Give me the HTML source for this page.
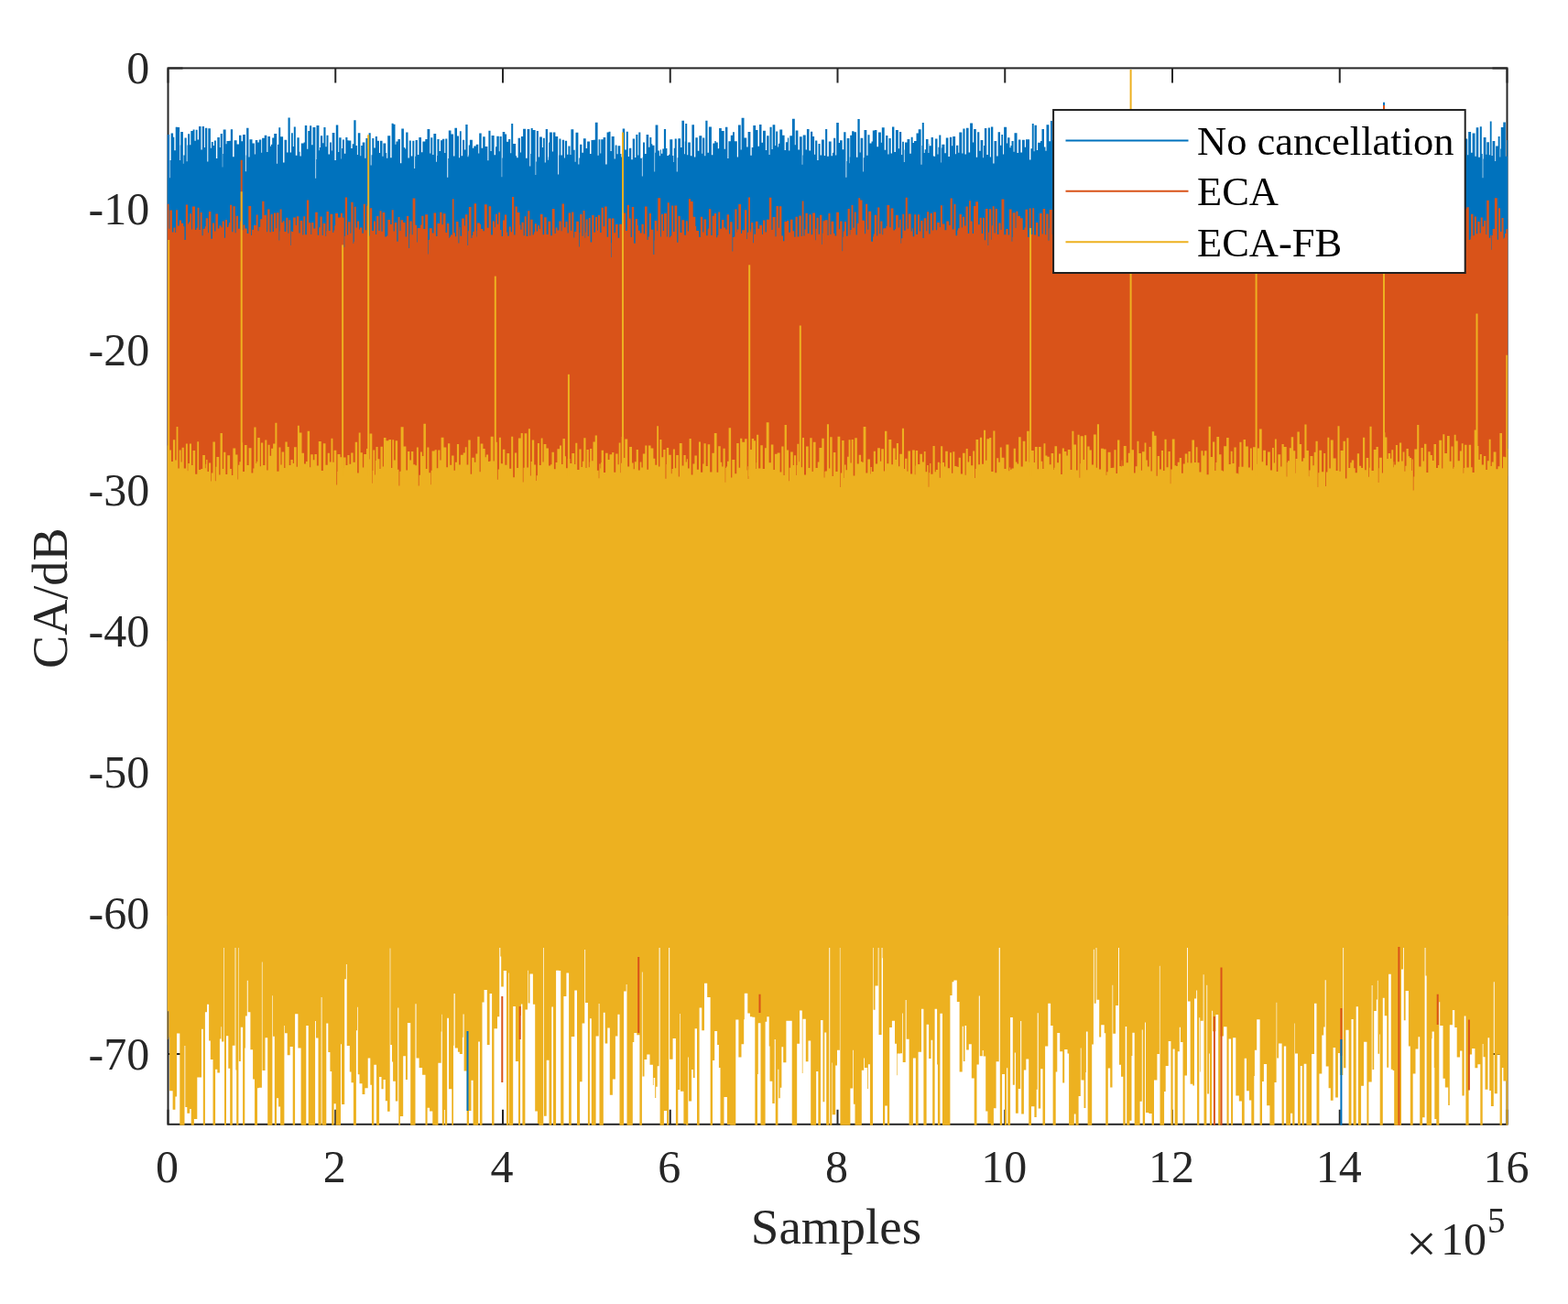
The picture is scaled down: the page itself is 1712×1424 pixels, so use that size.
<!DOCTYPE html>
<html><head><meta charset="utf-8"><style>
html,body{margin:0;padding:0;background:#fff;overflow:hidden;}
svg{display:block;}
text{font-family:"Liberation Serif","Times New Roman",serif;fill:#262626;}
</style></head><body>
<svg width="1712" height="1424" viewBox="0 0 1712 1424">
<rect width="1712" height="1424" fill="#fff"/>
<defs><clipPath id="c"><rect x="182.5" y="73.4" width="1464.0" height="1155.3999999999999"/></clipPath></defs>
<rect x="183.5" y="74.4" width="1462.0" height="1153.3999999999999" fill="none" stroke="#262626" stroke-width="2"/><path d="M183.50 1227.8V1211.8M183.50 74.4V90.4M366.25 1227.8V1211.8M366.25 74.4V90.4M549.00 1227.8V1211.8M549.00 74.4V90.4M731.75 1227.8V1211.8M731.75 74.4V90.4M914.50 1227.8V1211.8M914.50 74.4V90.4M1097.25 1227.8V1211.8M1097.25 74.4V90.4M1280.00 1227.8V1211.8M1280.00 74.4V90.4M1462.75 1227.8V1211.8M1462.75 74.4V90.4M1645.50 1227.8V1211.8M1645.50 74.4V90.4M183.5 74.40H199.5M1645.5 74.40H1629.5M183.5 228.19H199.5M1645.5 228.19H1629.5M183.5 381.97H199.5M1645.5 381.97H1629.5M183.5 535.76H199.5M1645.5 535.76H1629.5M183.5 689.55H199.5M1645.5 689.55H1629.5M183.5 843.33H199.5M1645.5 843.33H1629.5M183.5 997.12H199.5M1645.5 997.12H1629.5M183.5 1150.91H199.5M1645.5 1150.91H1629.5" stroke="#262626" stroke-width="2" fill="none"/>
<g clip-path="url(#c)">
<path fill="#0072BD" d="M182.5 700V147.1H185.1V194.3H185.6V175H186.6V145.4H189.1V149.8H190.3V164.2H191.7V138.8H194.1V139H196.1V174.9H196.8V158.6H197.2V144H199.9V178.8H200.4V169.5H201.5V150.5H203.7V176.2H204.5V158.5H205.1V146.2H207.2V158.2H208.3V143.1H210.6V141.5H212.5V153.7H213.7V141.7H215.6V152.5H217V138H219.5V163.4H220.7V138.1H223V161.1H223.9V139.7H226.3V176.5H227.3V140.3H229.9V161.7H230.8V155H232.7V158.9H233.9V153.4H235.9V172.9H237.3V150H239.8V161.1H240.7V146H242.8V182.6H243.2V168.1H243.7V141.6H246.6V157.3H247.5V154.1H250.4V153.8H251.8V141.3H254.1V171.3H255.6V153.3H258.6V157.6H260.1V157.4H261V147.8H263.5V154.2H265V146.9H267.9V187.2H268.7V169.5H269.1V139.8H271.5V171.4H272.5V152.3H275.5V156.4H277.9V168.6H278.8V153.1H281.3V155.6H282.8V152.5H285.3V166.8H286.1V150.8H288.7V147.8H291.3V166H292.4V149H295V159.8H295.9V157.8H297.2V150.6H299.2V145.9H302.2V178.8H303V157.9H303.4V157.7H304.3V139.3H306.2V149.3H309.1V177.4H310.5V152.8H313.1V166.5H314.5V128.4H316.7V166.6H318V145.3H319.8V160H320.8V138.5H322.8V169.8H324.4V150.3H326.7V165.8H327.5V170.5H328.8V156.5H331.6V155.4H332.8V137H335.2V162.7H336.3V142.9H338.1V137.3H340.2V158.3H341.5V139H344.4V194.7H345.1V173.9H345.5V137.1H348.4V164.3H349V161H349.9V148.3H352.2V156.3H353.4V138.9H355.5V160.2H356.5V147.7H358.5V168.5H360V155.4H361.9V164.6H362.7V144.9H365.4V175.1H366.8V136.6H369.3V166.1H370.2V150.2H372.6V173.6H373V162H373.9V152.5H375.9V167.8H377.3V149.9H379.4V153.3H380.5V153.5H383.3V162H384.7V157.2H386.3V131.3H388.6V159.1H389.9V169H390.8V145.2H393.4V170.2H394.2V159.1H395.7V155.5H398.4V172.8H399.4V151H401.8V162.4H402.6V145.2H404.7V180.4H405.5V169.3H406.3V150.9H408.3V161.5H409.8V149.1H411.9V153.7H414V167.1H415V153.7H417.5V170.8H418.4V156.6H421.3V166.9H422.2V172.8H423.2V148.3H426.2V172.2H427.6V134.7H429.6V135.8H431.5V157.8H432.4V154.5H434.4V152.1H437V178.2H438.3V140.5H440.9V161H442.2V162.6H443.2V144.6H445.5V172.4H446.8V153.5H448.8V170.6H450.3V153.7H452.3V184.1H453.1V170.7H453.6V153H455.9V169.1H457.3V150.1H460V166.3H461.4V154.6H464.3V152.1H466.5V141.1H469.3V167.6H470.3V150.3H472.3V168.9H473.4V146.1H476.2V176.7H477V170H477.4V152.1H479.6V164.9H481V153.3H482.9V151.7H485.3V167.1H486.3V151.4H488.3V193.7H489.2V172.9H489.8V142.6H492.5V146.5H495.1V170.5H496.4V139.7H499V148.6H501V172.2H501.9V143.2H503.7V170.2H505.1V152.7H507.1V163.4H508.3V136H510.6V171.3H511.4V169.5H511.8V158.5H512.9V152.7H515.9V161.7H517.3V159.5H519.7V157.7H522.3V167.4H523.2V145.5H525.7V161.7H527.2V149.3H529.7V160.1H532.4V175.3H533.4V142.7H535.5V165.1H536.6V148.1H539.6V169.3H541V160.2H542.3V148.8H544.8V165.3H545.6V148.9H547.7V193.2H548.2V172.4H548.7V144.1H551.3V146.4H553.1V154.7H555.1V152.1H557.3V167.2H558.2V135.1H560.2V157.1H563.1V170.3H564.2V172.2H565.6V150.7H568V166.4H568.9V149.1H571.1V140.8H574V172.7H575.6V141H578.3V181.5H579.2V168H579.7V140H581.7V142.1H584.6V190.9H585.2V176.6H585.8V143H587.9V171.4H589V149.5H591.9V161.1H592.9V150.8H594.8V177.5H595.7V141H598V174.8H598.7V171.5H599.1V155.5H600V144.5H602.9V165.4H603.9V144.6H606.4V149.1H609.2V190.4H610.1V169.6H610.5V151.6H612.4V169.5H613.8V152.7H616.1V172.4H616.9V153.8H619.1V168.7H620.4V159.4H622.5V169H623.4V141.2H626.3V163.7H627.7V176.7H628.5V144.8H631.4V179.6H632.3V172.5H633.1V157.7H635.4V166.8H636.9V151.2H639.7V162.1H641.1V154.5H644V168.1H645.5V153H647.8V152.8H649.8V133.8H652.6V169.8H653.6V152.2H655.4V167.5H656.2V152.3H658.6V149.9H661.2V179.6H662.6V144.5H664.6V143.8H666.5V164.9H667.7V148.9H670.7V173.6H671.7V158.4H673.5V168.2H674.6V159.3H677.3V167.9H678.4V171.5H679.7V140.5H682.2V163.4H683.8V143.7H685.8V171H686.9V161.7H689.3V174.2H690.7V151.6H693.1V171.9H694.3V146.9H696.4V169.4H697.3V144.5H699.3V172.8H700.9V192.5H701.6V171.7H702V155.5H704V168H705.6V146.9H708.2V160.7H709.4V149.9H711.3V157.3H712.3V158.8H714.5V187.6H715.1V166.8H715.6V136.5H718.4V164.5H719.9V170.3H720.8V163.4H721.9V167.7H723.3V162.5H724.9V141H727.1V162H728.4V170.1H730V168.7H731.3V152.2H734.3V170H735.3V177.1H735.8V161.7H736.7V151.4H738.8V187.6H739.6V172.3H740.3V151.2H743.1V161H744.4V131.8H747V168.3H747.8V154.6H748.2V135H750.2V169.2H751.2V155.4H753.9V170.3H755.4V136.3H758V171.6H759.3V150.2H761.8V164.8H763.3V148.3H766.3V167.8H767.1V150.6H769.3V170.3H770.3V131.7H772.5V166.7H773.9V138.5H776.9V169.3H778.3V156.6H780.3V154.1H781.7V155.4H783.8V162.2H785.1V140H787.8V143.1H790.7V162.7H791.9V138.8H794.4V173.1H795.4V154.2H797.8V147.8H800V144.2H801.9V154.2H804.8V171.4H806V136.4H808.7V163.4H809.6V128.8H812.5V150.4H815.2V160.5H816.6V144.1H819.4V169.8H820.7V161.1H822.3V137H825.1V141.9H827.5V159.8H829V135.9H831.5V155.8H833V142.8H835.9V164.1H837.1V148.3H839.6V168.9H840.5V138.7H842.6V162.9H843.6V136.2H846.3V159H847.2V143.6H849.1V160.5H849.9V156.7H851.3V141.5H854.2V147.8H856.6V164H857.9V155.2H859.9V150.6H861.2V164.4H862.3V148.3H864.9V129.8H867.8V158.3H868.7V142.4H871.4V163.4H872.9V149.2H875.7V179.7H876.3V169.5H876.7V147.4H879.7V163.5H880.9V141H883.5V164.6H885V143.7H887.2V149.1H889.1V168.7H890.1V153.6H892.3V175.1H893.5V157.1H895.6V169.4H897V152.5H899.8V170.1H901.1V141.1H903.2V170.7H904.8V154.6H907.6V170.2H908.9V166.8H910.1V150.8H912.2V169.4H913.2V133.9H915.8V156.1H917V153.2H919.7V163.3H921.2V144.2H923.5V193.8H924.3V176H924.7V150.9H927.4V178.3H927.8V171.6H928.2V147.7H930.1V143.2H932.5V144.3H935V171.7H936.4V130.1H938.7V166.4H939.6V150.8H942.2V187.5H942.8V172.2H943.5V142.1H946.3V169.7H947.5V147.3H949.5V156.6H951.5V154.6H952.8V142.4H954.9V142H957.4V160.3H959V144.4H961.9V155.8H962.8V139.2H965.7V163.8H967.1V147.9H969.4V168.4H970.5V150.9H972.7V167.4H974V138.6H976.4V166.1H977.9V142H980.8V162.2H981.9V143.9H984.2V169.1H985.1V154.8H986.9V176.9H987.6V163.4H988V155.4H990.5V151.9H993.3V167.7H994.7V149.8H996.6V155.9H998V154H1000.5V145.5H1002.7V141.3H1005.6V179.8H1006.4V159H1006.8V134.1H1008.8V167H1009.7V163.3H1010.9V152.1H1013.5V166.9H1014.3V157H1014.7V159.2H1016.6V149.9H1018.9V170.6H1020V170.7H1021.1V151.4H1023.5V168.5H1024.4V160.8H1025.3V147.4H1027.3V177.6H1027.8V161.5H1028.4V157.7H1031.4V167.3H1032.8V150.6H1035.4V171.1H1036.9V149.8H1039.2V159.2H1040.2V149.1H1043.1V168.3H1044V158.8H1046.3V166.8H1047.3V144.4H1050.3V167.4H1051.4V140.5H1053.5V168.6H1054.9V139.8H1057.6V166.4H1059.1V134.4H1062V155.6H1063.1V141.1H1065.8V171.7H1067.1V144.3H1069.3V164.7H1070.6V153H1073.3V172.3H1074V158.9H1074.9V140H1077.3V168.9H1078.8V139.6H1080.9V171.5H1081.9V138.4H1084.3V178.6H1085.5V153.9H1088.2V170.4H1089.6V144.2H1092V158.8H1093.3V147.1H1095.1V168.5H1096.1V138.7H1099.1V156.5H1100.1V150.3H1102.5V161.2H1103.5V159.1H1104.5V154H1106.6V165.8H1107.5V145.3H1110.5V167.1H1111.9V152.4H1114.4V166.5H1116V152.8H1118.8V160.8H1120V152.2H1121.9V152.3H1124V174.4H1125.4V162.3H1126.8V135.1H1128.7V165.2H1129.5V136.7H1131.9V164H1133.1V155.7H1136V154H1137.5V141.1H1140V160.5H1141.5V164.8H1142.5V136.2H1145.4V154.3H1147V132H1148.9V153H1150.4V148.9H1153V159.4H1154.3V142.6H1156.5V163.6H1158V151.4H1160.2V191.9H1160.9V171.1H1161.3V149.5H1163.7V164.1H1164.9V143.7H1166.9V169.7H1168.5V154.2H1171V164.8H1172.5V145.7H1174.4V148.9H1176.7V170.8H1178V175.8H1179.1V148.4H1181.5V170.5H1182.2V158.3H1182.8V146.2H1184.9V164.1H1185.9V145.1H1188.3V164H1189.5V143.2H1191.7V152.7H1194.1V163.6H1195.1V148.1H1198.1V167.8H1198.9V147.1H1201.5V167.6H1202.7V141.5H1204.8V165.9H1205.8V144.3H1208V181.2H1208.8V169.6H1209.2V166H1210.2V149.4H1212.4V158H1213.9V154.1H1216.3V163.5H1217.7V148.3H1220V164.5H1221.2V148.4H1223.5V170.4H1224.4V154H1226.9V187.2H1227.4V167.5H1228.4V141.7H1230.8V152.7H1233.7V185.1H1234.5V164.3H1235V158.5H1237.7V163.6H1238.5V134.4H1240.9V154.6H1243.8V145.4H1246.7V179.7H1247.3V168.3H1247.7V152.1H1250.5V157.2H1251.8V136.5H1254.1V172.6H1255V151.8H1257V156.2H1258.5V140.7H1261.2V182.1H1262V179.9H1262.4V153H1264.3V186.4H1264.7V171.1H1265.7V180.8H1266.3V165.1H1266.7V157.3H1269.7V169.3H1270.7V138.8H1273.2V172.7H1274.4V151H1277V176.5H1277.8V163.4H1278.2V177.2H1278.8V173.5H1279.2V146.6H1281.5V165.7H1283.1V144.9H1285.4V162.4H1286.2V145.8H1289V178.6H1290.2V149.3H1292.1V154.3H1294.6V187.3H1295.5V173H1295.9V158.3H1298V167.7H1299V152.6H1301V181.2H1301.7V160.4H1302.4V153.7H1304.5V167H1306.1V142.3H1309V178.1H1310.2V154.7H1312.3V176.7H1313.3V140.7H1316.2V159.6H1317.4V181.6H1318.2V162.9H1318.6V142.3H1320.4V172.1H1321.5V147.4H1323.7V168.1H1324.7V152.6H1327V166.3H1328.1V148.9H1330V166.8H1331.4V153H1334.3V166.4H1335.9V154.5H1337.9V169.9H1339.3V141.5H1342.3V175.2H1343.1V145.3H1345.5V180.8H1346.1V160H1347V164.1H1348.2V132.1H1351.1V188.7H1351.8V167.9H1352.2V138.9H1355.1V166.5H1356.3V149.2H1358.9V159.5H1360.3V156H1363V148H1365V163.1H1365.9V151.6H1368V170.4H1368.5V159.2H1369.2V142.5H1371.2V178.4H1372.3V146.6H1374.9V142H1377.7V183.6H1378.2V162.8H1378.6V149.9H1380.6V145.6H1382.6V157.2H1384.1V149.7H1386.6V170.1H1387.9V168.5H1389.2V139H1392V169.9H1393.2V157.9H1395.2V162.6H1396.4V154.5H1398.9V159H1400.5V152.9H1402.6V147H1404.6V177.3H1405.5V157H1408.1V162.6H1408.9V142.4H1411.1V170.7H1412.6V159.3H1413.8V154.7H1416.2V166.2H1417.3V155.9H1419.5V166.2H1420.7V134.7H1422.6V160.4H1423.5V152.1H1425.5V156.5H1426.8V141.3H1429V147.4H1431.5V161.1H1432.7V155H1433.6V146.1H1435.5V147.6H1437.4V170.3H1439V154.2H1441.4V162.8H1442.3V140.9H1444.2V161.2H1445.5V158.9H1447.8V192.8H1448.5V172H1449.2V154.6H1451.9V170.1H1452.8V186.8H1453.4V166H1453.8V133.4H1456.7V170.6H1457.8V140.1H1460.6V166.2H1461.4V154H1463.7V170.2H1464.7V155.9H1466.3V140.5H1468.7V163.6H1470.2V157.9H1472V167.8H1473.2V148.2H1475.9V172.5H1477.3V151.8H1480.1V172.9H1481.6V149.9H1483.9V172.7H1485V159H1487V170.7H1488.1V149.5H1490.1V154.7H1491V154.2H1493.1V167.3H1494.6V148.9H1497V171.9H1498V142.5H1500.8V161.2H1501.8V138.1H1504.3V175.6H1505.2V170.1H1505.7V166.1H1506.9V147H1509.8V176.8H1510.6V168.9H1511.3V168.4H1512.8V142.8H1515.6V177.8H1516.5V161.5H1517.2V147.7H1519.5V164H1520.4V148.8H1522.9V173.1H1524.2V142.1H1526.7V141.2H1528.8V154.7H1530.4V147.9H1533.3V182.3H1534.2V174.7H1534.9V127.8H1537V163.8H1538.1V148.5H1540.1V160.3H1541.4V141.9H1543.7V155.8H1544.9V181.1H1545.7V166.5H1546.2V143.4H1548.2V165.4H1549.2V149.1H1552V157.6H1553.4V152.4H1556.1V156.6H1557.6V144.4H1560.1V139.9H1562V164.8H1563.5V153.5H1566.3V159.1H1567.8V143.7H1570.1V135.1H1572.7V151.1H1574.6V159.6H1575.7V178.1H1576.9V137.8H1579.5V168.9H1580.8V150.4H1583V168.9H1583.8V152.3H1586.6V157.5H1587.6V139.3H1590V168.5H1591.3V155H1593.6V158H1594.5V178H1595.7V148.3H1598.3V172H1599.4V151.6H1602.3V169.3H1603.2V143.9H1606.1V166.7H1607.6V145.6H1610.5V170.8H1611.7V139.3H1614.3V171.8H1615.8V138.2H1617.8V168.1H1618.7V194.2H1619.3V173.4H1619.7V149.9H1622.5V168.7H1623.3V155.2H1625.9V169.3H1626.8V132.5H1628.6V170.1H1629.6V153.9H1632.3V176.1H1633.1V159.5H1635.7V149.1H1637.6V171.4H1638.2V162.4H1638.8V139.1H1641.3V133.6H1643.9V170.7H1645.3V153.1H1646.5V700Z"/>
<path d="M1511.0 111.7V300.0" stroke="#0072BD" stroke-width="2"/>
<path fill="#D95319" d="M182.5 1000V222.8H184.5V249.7H185.3V229.5H187.9V253.6H189.4V248.6H191.3V254.1H192.1V229.3H194V246.4H195.7V240.4H198V243.7H200.3V247.3H201.4V262H202.8V223.5H205.1V244.6H206V242.4H207.3V233.2H209.2V250.4H210V225.4H213V250.9H214.5V248.7H215.6V226.8H217.4V251H218.7V232H220.6V257.2H221.6V249.7H223.8V247.2H224.7V238.2H227.1V254.2H227.9V231.1H230.4V260.8H231.9V243.6H234.1V252.5H235.4V233.4H237.9V249.5H239.4V246.3H241.5V248.2H242.6V241.6H244.9V259.8H246V239.9H248V248.1H249.4V245.8H249.9V243.2H251.1V223.8H253.2V253.3H254.4V225.3H256.7V254.2H257.6V235.7H260V249.7H261.8V241.4H264.2V251.3H265.4V245.5H267.4V249.6H269.7V255H271.3V224.9H274.2V257.1H275V250H275.4V251.1H277V246.1H279.7V234.4H281.6V252.3H282.5V247.7H284.2V239.3H286.2V219.8H288.5V234.9H291.2V253.3H292.1V228.6H294.5V253.4H295.7V234H297.6V252.9H299V232.6H301.3V249.3H302.1V232.3H304.5V262.4H305.2V252.6H305.6V228.4H307.6V243.1H308.7V241.3H310.6V253H312.3V237.7H314.4V254.8H315.3V240.2H317.2V267.9H317.7V252.4H319V252.9H320.1V237.6H322.8V245.9H323.8V236.2H326.4V254.6H327.6V241H330.4V256.4H331.3V236.3H333.2V256.3H334.9V218.5H337.3V243.2H339.4V255.9H340.2V242.9H342.4V249.5H344.2V231.7H346.8V256.7H348.1V248.3H349.5V236.6H351.7V257H352.7V244H355.4V257.9H356.1V252.5H356.5V231H358.9V252.1H360.5V233.8H363.3V254.1H364.3V251.6H365.2V246.2H366.1V233H369V237.5H371.8V232.8H373.9V237.6H375.7V270H376.2V258.1H376.8V215.4H379.1V256.6H380.1V242.2H382.4V254.8H383.3V220.7H385.6V266.1H386.2V264.1H386.7V225.7H388.7V248.5H390V241.4H392V250.4H393V248.6H395.4V254.7H396.8V222.7H398.7V251.3H400.1V224.4H402.2V257.6H403.8V227.3H406.2V251.9H408V241.5H410.1V256H411.1V236.1H413.4V251.9H414.6V230.3H416.5V252.8H417.6V232.1H420.3V258.4H422V257.6H423.3V240H426.1V244.9H427.7V229.3H429.7V252.5H430.8V243.1H433.3V263.7H434.6V237H436.5V252.1H437.5V240.3H440.2V242.9H442.7V258.5H443.9V236H446.3V271.1H447.1V255.5H447.5V241.6H449.7V256.3H450.6V216.6H453.4V245.8H455.1V264.6H455.7V249H456.7V249H459V245.5H460.3V235.7H462.4V250H464.2V234.3H467.1V277.5H467.6V261.8H468.9V249.3H471.8V254.4H473.5V232.5H476.1V258.1H477.4V243.9H480.2V231.8H482.5V245.3H483.7V233.3H486.5V253.9H488.1V244H490.3V260.1H490.9V258.5H492V256.4H493.8V217.2H495.6V254.3H497V258.2H498.1V241.9H500.5V265.5H501.3V250.8H501.7V247.7H502.5V257.8H504.1V238.4H506.9V246.5H507.9V234.2H510.4V267.9H511.1V252.3H511.9V226.1H514.5V260.1H515.4V256.9H516.2V252.9H517.6V222.3H520.1V258.4H520.6V251.9H521V243.6H524V244.7H525.1V250.1H527.4V252.2H528.9V223.3H531.8V248.8H533.6V225.3H536.2V256.6H537.9V241.5H540.2V248.3H541V233.8H542.9V244.8H544.2V232H546.1V251H547.7V258.1H549V240.5H550.9V234.5H553.2V253.9H553.9V252.8H554.3V257.7H555.8V247.5H557.7V253.3H559V215.1H561.2V256.5H562.5V225.6H564.8V232H567.5V245.5H568.4V250.7H569.5V242.8H571.7V257.3H572.7V236.2H574.7V257.9H576.2V230.2H578.4V257.3H579.3V239.7H581.6V256.6H582.8V254.8H583.2V253.3H583.9V244.2H585.8V252.5H587.1V246.2H588.9V249.9H589.9V234H592.6V256.2H594.1V237.2H596.7V256H598.5V241.7H601.2V257.2H602.8V228H605.6V255.1H606.7V248.4H608.6V251.5H610.4V241.6H612.7V252.2H613.5V222.6H616V248.2H617.5V241.9H619.6V254.6H620.7V232.4H623.1V251.7H624.2V231.6H626.4V259.6H627.2V253.1H629.2V241.7H632V269.6H632.7V254.1H633.2V233.9H635.6V257.7H636.5V229.9H638.6V259.7H639.2V253.8H639.7V239.6H641.7V258.1H642.8V238.1H644.7V264.5H646.2V234.9H648.5V253.8H650V236.9H652V251.8H652.8V235.1H655.2V253.9H656.6V226.8H658.8V247.3H660.1V225.4H662.7V258.8H664.1V238.4H667V280.9H667.5V265.3H667.9V238.6H670.5V254.3H672V245.1H674.7V259.7H676.2V244.8H679V263.1H679.7V259.6H680.1V232.4H683V251.9H684.8V223.9H686.9V238.4H688.7V258.9H689.8V226H692.2V265.7H693.7V239.1H696V246H696.9V251.7H698.8V254.6H700.5V244.8H702.8V255.2H704V225.5H706.6V262.1H707.6V258.5H708.8V233H710.9V250.8H713.4V278.1H714.3V262.5H714.7V241H717.3V252.3H718.2V216.2H721.2V258.4H722V234.1H723.9V252H725V232.9H727.9V258.6H728.7V221.2H730.8V259.3H731.8V257.4H733.3V224.6H735.1V253.1H736.5V224.4H739.2V264.7H740.4V236H742.7V254.1H744.3V240.3H747.2V256.7H748.9V241.2H750.9V252.5H751.9V217.3H754.2V219.9H756.7V236.8H759.3V247.1H760.2V252H763.1V258.9H764.8V236.7H767.2V253.5H768.4V239.4H771.1V257.3H772.6V250.2H773.5V249.1H773.9V228.2H776.3V257H777.6V235.8H779.7V232.9H782.1V259.2H783.3V256.8H784.3V231.5H786.2V249.8H788V239.9H790.5V248.4H792.2V250.5H793.6V234.2H796.1V255.5H797.1V242.3H799.5V274.6H800.2V259.1H801.2V258.5H802.3V228.5H804.5V253.6H804.9V250.5H806.3V222.9H809V255H810.1V251.2H813V229.3H815.4V260.9H816V253.7H817.1V215.6H819V253.2H819.6V250.5H820.1V243.1H822.3V265.2H823V249.6H823.4V255.8H824.9V241.8H827.6V249.8H829.1V246.1H832.1V256.1H833V240.4H835.5V253.6H836.9V239.7H839.8V215.8H842.4V251.1H843.6V236.9H846.5V258.3H847.5V225.1H849.9V248.7H850.8V225.2H853.4V257.6H855V263.3H856.4V241.9H859V240.9H861.2V253.7H862.9V239.8H865.6V252.3H867.2V258.8H868.5V236.7H870.8V258.4H872.3V235.6H874.8V258.1H875.7V219.5H877.5V257.6H878.5V250.4H879.5V232.8H881.8V255.1H883.4V234.3H885.8V256.3H887.1V232.6H890V262.3H890.6V249.7H891.5V237.7H893.7V255.7H894.9V234.8H897.4V267.1H897.9V254.8H898.5V241.2H900.6V240.2H903.6V257H904.5V233H906.5V255.9H907.4V241.8H910.3V255H911.6V257.6H913.2V231.8H916V250.2H917.1V241.6H919.5V274.3H920.1V258.7H920.6V252.5H921.9V241.9H924V257.8H925.6V227.9H927.8V256.4H928.3V251H929.6V224H931.4V248.7H932.7V231.5H934.6V256.6H935.8V243.9H937.3V216.3H939.2V218.6H941.5V240.8H944.1V255.2H945.1V222.8H947.2V250.7H948.3V230.8H951.2V263.7H953V258.6H953.7V255.6H954.7V234.7H957.2V257.6H958.2V226.6H960.3V255.3H961.3V241.6H963.4V256.3H964.2V249.5H964.8V249.3H967.4V247H968.4V223.9H971.3V248.3H972.6V227.6H975.4V251.4H976.9V250.3H978V235H980.8V248.6H981.8V239.8H983.6V265.8H984.1V260.3H985.3V233.7H987.1V251.8H988.7V215.8H990.8V249.7H991.8V233.5H994.7V252.4H995.7V249.2H996.7V258.3H998.2V234.2H1000.3V255.9H1002V234.3H1003.9V252.4H1005.1V240.9H1007.5V260.1H1008.7V238.2H1011.3V252.3H1012.2V231.2H1014.2V255.4H1015.6V232.9H1017.9V251.6H1019.2V231.4H1021.9V251.2H1023.1V243.1H1025.9V248H1026.8V224.2H1028.9V244.6H1031.5V251.3H1033.3V241.5H1036.2V246H1037.6V216.4H1039.8V250.6H1041.4V223H1043.5V257.3H1045.1V251.6H1045.9V249.2H1047.5V234.1H1049.9V248.5H1050.8V236.7H1053.1V246.5H1054.5V225.6H1056.8V254.9H1058.1V219.3H1059.9V241.5H1061.8V255.1H1063V225.1H1065.2V220.3H1068V245.3H1069.6V237.8H1071.8V254.9H1073V237.8H1074.9V262.3H1076V228H1078.6V267.9H1079.2V253.7H1080V228.2H1082.3V261.7H1082.8V246.2H1083.7V225.3H1085.6V254.5H1086.7V228.1H1088.9V256.1H1090.4V243.5H1092.6V250.9H1093.5V217.5H1096.4V256.2H1098.2V250.1H1100.8V256.5H1102V228.6H1104.6V263.7H1105.3V259H1105.7V232.2H1108.6V249.1H1109.4V230.8H1111.4V236H1114V238.3H1116.7V251.1H1118.5V248.4H1119.5V228.7H1122.1V259.1H1123.7V227.5H1125.6V256.1H1127.3V227.3H1129.2V256.4H1131V243.1H1133.5V258.3H1135V232.9H1137.7V255.5H1138.7V228.1H1141.2V256.3H1142.2V233.6H1144.6V262.8H1145.4V249.2H1145.8V229.1H1148.8V255.8H1149.9V258.2H1150.9V237H1152.8V260.2H1154.1V230.7H1156.9V251.4H1157.9V236.2H1160.8V232.2H1162.7V250.4H1163.9V238.5H1166.1V261.5H1167.5V236.9H1170.5V274.8H1171V259.1H1172.2V244.7H1174.6V238.6H1176.8V259.8H1178V238.6H1180.8V255.4H1182.1V226.6H1184V255.6H1185.7V213.6H1188.5V254.4H1189.2V248H1189.7V242.9H1192.4V248H1193.8V237.2H1195.7V255.8H1197.1V242.8H1198.7V237.3H1201.4V230.1H1203.5V256.3H1205.1V239.2H1207.6V254.6H1209V225.3H1211.1V239.7H1213.3V250.5H1214.7V240.7H1217.4V252.6H1218.6V239.7H1220.4V249.9H1221.4V231.4H1223.4V255.6H1224.8V235H1227.6V271.6H1228.1V256H1228.5V250.3H1229.8V247.3H1232V269H1232.5V253.4H1233.2V231.1H1235.7V245.6H1237.2V243.7H1240.1V250H1241.7V243.3H1243.5V261.4H1245.3V235H1247.1V248H1248.4V241.9H1251.2V257.7H1252.6V230.3H1255.3V251.8H1256.1V227.8H1259V251.6H1260.4V230.6H1262.9V253.9H1264.6V224.4H1266.9V254.5H1268.3V235.7H1271V250.4H1272.7V224.2H1274.9V259.6H1276.5V256.7H1278V251H1280.6V263.5H1281.3V247.9H1281.7V245.7H1284.4V226.4H1286.4V253.9H1287.6V242.2H1290.1V247.1H1291.8V228H1294.4V247.4H1295.9V239.4H1298.5V244.7H1301V251.4H1302.8V244.3H1305.5V254.6H1306.6V214.2H1309.5V231.8H1311.9V262.6H1312.7V253.1H1313.4V228.5H1315.8V259.7H1317.5V255.5H1318.8V229.8H1321.2V243.3H1323.6V259.9H1324.3V255H1325.2V235.9H1328V255.9H1329.2V245.5H1330.9V233.2H1333.7V256.4H1334.6V230.8H1337.5V251.9H1338.7V246.4H1341.7V252.1H1342.5V250.9H1342.9V229.4H1344.9V245.2H1346V231.1H1348V256.7H1349.3V219.2H1351.3V256H1352.5V237.6H1355.1V244.5H1356.7V262.3H1357.4V256.2H1358.4V242.6H1361V251.3H1362.5V227.6H1364.7V257.8H1366.4V225.4H1368.2V250.9H1369.4V227.8H1372V243.1H1373V227.4H1375.4V251H1377.1V250.5H1378V237.3H1380.6V247.1H1381.8V265.7H1382.3V254.2H1382.9V252.2H1383.9V248.3H1385V238H1387.5V247.8H1388.7V237.9H1391.3V253H1392.4V242.9H1395.1V264.9H1396V262H1396.8V228.7H1398.7V261.8H1400.4V230.8H1403.2V262.9H1403.7V255.5H1404.9V219.3H1407V247.2H1408.8V248H1410.2V233H1413V265H1413.5V249.4H1414.6V222.7H1416.6V254.8H1418.3V227.4H1420.5V254.9H1422.1V229.9H1425V272H1425.9V256.5H1426.8V224.3H1428.9V246.3H1429.3V244.6H1429.8V258H1430.7V230.4H1433.5V255.6H1435.2V231.6H1437.3V244.3H1439V223.5H1441V249.6H1442.6V213.3H1445.3V246.4H1446.9V237.1H1449.2V244.1H1451.7V253.2H1452.5V247.9H1455.5V251.2H1456.3V246H1456.7V250.7H1459.2V248.1H1460.3V248.2H1461.2V222.3H1463.4V214.1H1465.5V248.6H1466.5V224.4H1468.7V245.8H1470.5V262.8H1472V243.9H1474.5V251.9H1476.1V213.7H1478.5V252.1H1479.4V224.4H1481.9V241.2H1484.4V255.6H1486V234H1488.8V253.7H1489.9V213.9H1492.7V257.7H1494V245.1H1496V256.6H1497.1V244.1H1499.6V249.5H1500.7V227.3H1502.8V254.9H1504.4V230.3H1507V229.4H1509.7V246.6H1511.5V224.4H1513.7V263H1514.2V248.6H1515.1V225.2H1517.6V249.6H1518.6V257.3H1519.8V233.7H1521.8V255.3H1523.3V243.4H1525.1V231.5H1527.3V248.9H1528.9V255.8H1529.8V226.7H1532.4V252.4H1533.3V243.3H1535.2V255.2H1536.5V226.1H1538.5V247.3H1539.7V242.3H1541.7V253H1543.5V243.8H1545.9V237.4H1548.3V273.4H1548.9V264.1H1550V247.4H1552.9V268.1H1553.5V252.5H1554V224.3H1556.4V262.9H1557.3V249.1H1557.8V244.2H1560.3V230H1563.2V227.5H1565.5V258.2H1566.8V226.6H1569.3V251.4H1570.3V242.3H1572.7V251.8H1574V220.6H1576.6V259.6H1577.8V241.8H1580V248.2H1581.7V224.3H1583.6V273H1584.4V257.4H1585V247.3H1586.3V232.5H1588.2V250.7H1589.1V233.4H1592V254.7H1593.8V252.3H1595.7V247H1596.6V226.3H1599.5V227.9H1601.3V226.2H1603.8V262H1604.9V261.5H1605.7V258.3H1606.1V233.7H1608.4V257.3H1609.8V236.4H1611.9V255.3H1613.2V242.1H1615.7V254.5H1616.7V237.6H1618.7V247.2H1620.1V240.9H1622.4V256H1623.2V218.8H1625.8V259.7H1627.2V257H1628.2V272.7H1628.7V257H1629.7V250.1H1631.9V216.2H1634.8V261.7H1635.9V227.2H1638.1V253H1639.5V238.1H1641.6V260.8H1642.1V259.4H1643V254.9H1644.3V250.3H1646.1V239.7H1646.5V1000Z"/>
<path d="M263.7 174.7V500.0" stroke="#D95319" stroke-width="2"/><path d="M1511.0 115.0V500.0" stroke="#D95319" stroke-width="2"/>
<path fill="#EDB120" d="M182.5 1010V486.5H185.1V491.6H187V504H188.9V480.2H191.2V502.5H192.6V466H194.4V511.6H195.7V491.6H197.6V504.4H198.6V488.7H200.8V511.6H202.9V484.4H204.8V514.3H205.3V505.9H206.9V484.5H209V507.9H210.5V492H213.2V517.7H215.3V482.3H217.1V512.9H219.3V512H221.2V497.1H223.9V511.2H224.6V506.8H225.1V501.9H226.5V515.1H228V505.4H230.2V525.6H230.8V516.6H232.4V482.4H234.9V525.3H235.6V509.7H236.4V498.9H239.2V518.4H240.5V473H242.9V512.1H244.1V493.8H246.4V517.9H248.2V497.3H251.1V512H252.9V519H254.3V489.5H257.2V496.5H259.5V523.4H260.1V507.8H261.4V504.2H263.3V483.2H265.1V515H267V486.1H269.6V508H271.6V489.3H274.5V516.5H276.3V511.6H277.4V466.4H279.5V506H280.3V504H281.2V478H283.8V509.2H284.9V483.6H287.2V508.1H289.3V480.6H291.3V513.6H292.6V485.7H294.6V497.8H296.1V489.8H298.1V484.5H300.4V461.7H302.4V514.8H304.5V488.6H306.4V507.5H307.6V493.6H310.2V511H311.4V482.6H313.7V488H315.7V507.9H317.4V502H319.8V506.1H321V488.3H323.7V509.7H324.9V464.7H326.8V472.4H329.5V494.8H332V506.5H333.9V504H335.6V470.7H338.1V510.2H339.2V496.2H341.8V502.3H343.4V495.9H345.9V508.6H347.8V482H350.8V514H352.8V484.2H355.5V507.7H357.7V494.7H359.9V504.6H361.5V478.7H363.4V504.8H364.6V491.7H367.3V529.5H368.1V514.9H368.5V496H371.5V499.3H373.7V511.2H375.1V499.4H377.6V508H379.4V496.9H381.5V506.7H383.2V494.5H385.6V504.7H387.7V482.8H390.1V516.5H391.7V472.6H393.6V494.3H395.9V510.5H397.2V496H400V490.1H402.5V501.5H403.6V473.6H406.3V527.8H406.8V514.1H407.3V491.5H409.2V518.6H409.9V502.9H410.5V487.9H412.6V501.3H414.5V511.9H415.5V487.8H417.8V509.4H418.9V478.1H421.5V481.3H424.4V480.1H427V511.1H428.3V480.3H430.1V502.6H431.7V481.2H434.1V512.8H435.5V530.4H436.3V514.7H437.6V466.3H440.6V487.5H443.4V513.5H445V492.9H447.4V502.6H449V493H451.3V507.3H453.4V508.3H454.9V488.6H456.8V530.6H457.6V518.8H459V493.5H460.9V497.9H462.4V462.7H464.9V512H466.4V488.4H468.4V516.2H470.1V529.3H470.6V513.8H471.6V492.5H474.6V491.2H476.8V511.2H478.3V491.5H480.4V502.5H481.6V477.7H484.5V488.6H487.3V510.3H489V484.2H491.3V507.7H493.1V497.4H495.6V513.7H496.9V504.8H498.9V485.1H501.1V507.5H502.8V496.7H505.7V494.5H507.8V488.2H509.6V507.4H511.3V480.4H513.7V517.7H515.1V499.7H517.9V504.8H519.4V495.6H521.3V476.7H523.6V515.2H524.7V484.5H527.4V490.1H529.7V499.2H530.8V496.6H533.1V504H534.6V503.5H535.7V476.8H538.6V503.4H540.3V482.7H542.9V523.8H543.7V512.5H544.9V477.8H546.9V506.2H548.9V490.7H551.4V507.8H553.4V495.1H556.2V511.8H558.2V476.7H560.2V521.3H561.9V494.4H564.2V510.9H565.9V478.4H568.7V472.9H570.8V526.4H571.5V510.8H572.6V473.3H575.3V510.4H576.9V468.3H578.9V519.6H579.7V504H580.8V480.6H583.2V507.6H585.1V525.1H585.7V519.3H586.9V484H588.9V507.9H590.7V478.4H592.5V504.6H593.6V485H596.4V489.6H599V508.4H601.1V507.3H602.5V493.8H604.9V512.2H606.6V505.1H608.4V490.3H611V486.4H613V506.9H614.5V479.1H616.9V498.3H618V511.2H619.8V501H622.4V505.9H624.3V495H627.2V507H628.3V483.8H630.3V512.9H632.4V490.6H634.6V509.9H635.9V503.7H637.3V478.2H639.5V511.1H640.5V491.1H642.8V510.2H643.7V504.4H644.1V490.1H646.2V503.3H647.5V482.4H649.7V475.4H651.9V513.7H653.7V522.2H654.3V506.6H655.6V511.5H656.1V504.9H656.6V491.8H659V515.9H661.1V494.8H663.7V502.1H665.5V496.3H668.2V494.1H670.3V515.7H672.2V495.6H674.6V507.3H675.7V483.4H677.5V516.3H678V505.7H678.7V477.1H681.1V499.9H682.3V479.4H685.2V509.5H687.1V488.1H690V505.4H691.7V512.2H692.8V504.2H694.7V491H696.9V513.5H698.7V504.5H700.4V510.6H701.8V495.5H704.3V486.6H706.4V512.7H708V486.4H710.6V489.5H713.4V500.8H715.3V507.8H717.2V465.2H719V509.4H720.4V479.9H722.4V499.2H724.2V490.9H726.5V522.7H727.4V507.1H727.8V489.1H730.2V496.8H732.8V517.2H733.6V512.1H734.9V490.4H736.9V511.3H738.2V497.1H740.8V520.4H741.8V484H744.7V508.5H746.4V496.9H748.7V504.5H749.8V501.3H751V511.4H752.6V478.9H754.7V518.4H756.4V506.4H758.4V497.5H760.9V512.8H762.9V482.6H765V515.8H767.2V506.6H768.5V484.2H770.7V509H772.7V485.2H775.2V515.6H777.4V494.8H779.8V473.1H782.6V515.7H784.2V487.2H786.7V504.7H788.2V509.5H789.5V489.8H791.7V526.7H792.2V511.1H792.9V509.4H794V503.8H795.6V467.2H798.1V521.4H799.3V502H802.3V517.3H804.2V484H806.7V510.7H808.1V478.8H810.3V482.8H813.1V479.3H815.6V513.6H816.1V509.2H816.7V523.1H817.3V512.7H818.3V490.9H820.8V479H823.1V481.3H825.1V511.9H825.7V505.3H826.1V474.8H828.2V511.4H830.3V486.2H832.8V512.1H834.9V489.2H836.7V461.2H839.6V505.3H841.8V485.5H844.4V513.1H845.9V495.8H848.6V494.5H851.6V515.6H853.3V487.4H855.5V519.1H856.6V464.1H858.9V491.5H861.1V525.2H861.7V510.7H863.1V493.5H865.8V508H866.9V497.2H869.1V519.1H869.7V508H870.4V484.7H872.3V504.3H874V510.2H876V477.9H878V518.6H880V487.5H882.7V510.9H884.3V478.3H886.6V514.9H887.8V482.8H890.6V511H892.7V504.4H894.4V489H897.3V478.8H899.7V521.6H900.4V514.9H900.8V514.4H902.9V463.2H905V511.6H906.2V477.2H908.6V520H909.8V493.9H912.4V514.9H914.5V476.7H917.3V532H917.9V516.4H919.2V481H921.6V522H922V507.4H923.6V513.2H925V498.8H926.6V480.3H928.5V505.4H929.7V480.1H931.7V519.5H933.3V478.3H935.8V506.4H937.7V496.8H940.1V504.1H941.2V504.7H942.6V465.9H945.4V516.6H947.3V501.6H950V517.4H950.5V510.1H951.9V514.9H953.8V492.7H955.9V506.6H958.1V489.2H960.9V503.8H962.2V490.2H964.9V514.4H966V470.8H968.4V506.3H970.3V479.9H973.3V507.3H974.9V489.4H977.6V502.1H978.8V483.9H981V509.2H982.3V495.7H984.9V467.8H987V512.1H988.1V500.8H990.4V514.7H991.4V492.5H994V517.4H996.1V491.4H998.8V518.2H999.4V508.4H999.8V492H1002.1V506.9H1004.3V495.7H1007V504.6H1008.8V493H1010.6V515.2H1012.1V508H1013.7V531.7H1014.3V516.2H1015.1V506.1H1016.4V517.8H1018.5V487H1020.7V515.3H1021.8V512.9H1023.8V504.7H1025.8V521.7H1026.7V506.1H1027.1V487.2H1029.2V505H1031V509.4H1032.2V492.8H1034.8V511.2H1037V494.3H1039V516.7H1040.3V493.3H1042.3V508.9H1044.2V509.4H1045.6V510.1H1046.7V499.7H1048.9V517.6H1051V494.8H1053.7V518.8H1054.7V489.9H1056.7V504.5H1058.2V498H1060.1V508.3H1062.2V492.4H1064.1V522.1H1064.8V512H1065.5V480H1068.2V507.3H1069.9V477.8H1072.1V506.8H1074V469.8H1076.1V502.7H1077.4V479.2H1080.2V478.1H1082.3V515H1084.4V470.4H1086.4V516.2H1088.2V500.3H1090.3V504.8H1091.8V488.4H1093.7V499.7H1096.5V511.9H1098.4V485.6H1101.4V514.2H1102.2V510.4H1103.2V512.7H1104.5V511.6H1106.7V489.7H1108.9V504.6H1110.5V506.5H1112.1V477.3H1114.7V509.5H1116.7V481.8H1119.4V503.7H1121.1V470.8H1123.7V504.7H1125.9V491.9H1128.8V505H1129.9V488H1132.7V512.3H1134V488H1136.7V503.8H1138.3V512.1H1139.5V484.3H1141.4V497.6H1143.4V498.7H1145.8V507.3H1147.6V495H1150.2V512.9H1150.7V510.7H1151.5V487.3H1154.1V505.3H1156V495.4H1158.2V518H1159.8V489.6H1161.9V493.1H1164.4V497.5H1165.8V490.9H1168.7V513.1H1170.4V470.8H1172.4V485.6H1175V513.6H1176.6V474.8H1178.6V521.8H1179.2V506.2H1179.7V476.3H1182.7V502H1184V475.2H1186.2V513.3H1187.3V487.6H1189.6V491.4H1191.9V507.4H1193.9V474.6H1196.8V510.8H1197.9V463.3H1200V512.6H1202V489.8H1205V490.6H1207.7V519H1208.3V515.3H1209.6V493.7H1212.6V511H1214.5V510.7H1216.4V491.3H1218.5V516.9H1220V480.5H1222.4V508.9H1223.9V509.4H1224.7V502.4H1225.2V508.8H1226.8V487H1229.7V505.2H1231.8V494.7H1234V504.2H1235.1V491.2H1238V516.4H1239.6V509.3H1241.5V481.7H1243.4V495.1H1245.9V513.7H1246.9V493.2H1249.6V483.4H1251.4V502.6H1252.9V509.6H1254.6V487.9H1256.5V514.6H1257.8V471.2H1260.2V475.8H1262.6V519.7H1263.7V497.9H1266V512.6H1267.9V491.9H1270V513.9H1271.5V479.8H1273.6V510.2H1275.5V493.1H1277.8V528.2H1278.3V512.6H1279.8V479.4H1282.6V508.2H1284.1V509.1H1285.7V504.8H1287.7V500.1H1290V516.8H1291.7V506.5H1293.7V495.4H1296.3V505.2H1297.4V492.9H1299.8V505.6H1301.4V480.6H1304V505.1H1305.7V488.3H1307.5V505.3H1309.5V515.6H1311.4V492.2H1313.5V497.6H1315V492.3H1317.6V518.3H1319.6V465.7H1321.8V499.1H1324V482.4H1326.3V514H1327.4V504.9H1328.4V477.1H1331.1V496.2H1333.5V513.7H1335V514.6H1336.1V487.2H1339.1V478H1341.7V507H1343.7V492.8H1345.6V506H1347.4V488.5H1349.7V516.8H1351.8V517.8H1352.3V509.7H1353.4V482.8H1355.5V509.7H1357.5V480.1H1360V487.6H1362.9V510.5H1364.9V489.5H1366.8V513.6H1368V488.3H1371V506.8H1372.8V489.4H1374.9V468.5H1377.7V504.3H1379.1V491.7H1382V508.2H1384V493.6H1386.9V513.6H1389V488.9H1390.8V505.6H1391.9V479.4H1393.8V514.9H1395.3V496.2H1398.2V509.6H1399.5V485.1H1401.7V487.9H1404.7V520.5H1405.3V504.9H1405.9V503.3H1407.8V489.3H1409.7V477.2H1412.2V492.3H1414.3V516.7H1414.7V501.1H1416.4V471.6H1418.8V485H1421.1V503.8H1422.8V500.3H1424.4V463.6H1426.5V492H1428.9V520.3H1429.3V513.4H1430.5V497.9H1433.4V508.2H1434.7V493.8H1436.5V481.8H1438.7V531.9H1439.2V516.3H1440.3V491.8H1443.1V515.2H1445.2V495H1447.2V531H1448V515.4H1449.4V477.8H1451.3V511.5H1452.8V480.4H1455.7V500.6H1458.7V513.9H1460.5V465.2H1462.5V514.8H1463.6V492.1H1466.5V481.7H1468.9V522.6H1470.4V478.2H1472.4V511H1474.2V505.2H1475.7V502.5H1478.2V511.2H1479.7V516.3H1481.8V495.2H1484.1V508.8H1486.2V510.9H1488V477.8H1490.2V513.3H1491.7V500.1H1494.2V520.8H1494.9V510.7H1495.5V465.7H1497.6V514.1H1499.8V491H1502.5V488.1H1504.8V526.9H1505.4V511.3H1505.9V499.7H1508.9V516.6H1510.4V472.3H1512.4V477.4H1514.4V501H1515.6V495.1H1518.1V500.7H1519.3V491.2H1521.2V510.2H1521.7V504.2H1522.3V507.5H1523.9V486.1H1525.9V504.2H1527.9V483.6H1530.2V503.4H1531.6V493.6H1533.5V514.8H1534.3V508.8H1535.5V489.9H1537.8V498.3H1539.2V500.1H1541V514.1H1541.6V501.4H1542.8V535.4H1543.5V520.4H1544.3V490.4H1547.2V463.9H1549.3V509.5H1551.5V489.1H1553.7V503.5H1555V484.7H1557.4V516.1H1559.3V493.3H1561.7V497H1563.9V503H1565.5V485.1H1568V511.1H1569.9V508.1H1571.2V480.7H1574.2V511.6H1575.3V474.3H1577.3V495.1H1580V476.1H1582.7V503.8H1584.5V487.4H1586.4V511.8H1587.2V509.9H1587.7V474.7H1589.6V481.5H1591.7V503.2H1593.8V492.4H1595.8V484.2H1597.6V516.8H1598.2V511H1599.1V485.8H1601.5V510.4H1603.7V485.8H1606.1V510.2H1607.6V515.9H1609.7V469.6H1612.4V487H1614.4V501.9H1615.8V495.9H1617.8V507.6H1619.9V497.9H1622.3V512.9H1623.8V503.3H1625.7V479.7H1627.6V509H1628.8V504.6H1630.6V493.5H1633.5V512.2H1635.4V509.2H1637.4V472.9H1640V511.2H1641V498.7H1643.2V499.3H1645.2V489.9H1646.5V1010Z"/>
<path fill="#EDB120" d="M182.5 1000V1135H183.4V1104.3H184.4V1132.7H185.1V1191.2H188.6V1211.7H191.4V1197.5H193V1128.6H196.3V1232H199.1V1232H201.5V1142H202.3V1209.1H204.3V1215.7H207.2V1210.9H208.7V1232H211.9V1222.1H215.3V1176.5H218.4V1176.4H220V1123.7H221.8V1232H223.9V1105.3H226V1096.8H228.1V1136.4H229.8V1157.1H232.5V1232H235.1V1167.8H237.3V1171.5H239.9V1134.6H241.5V1121.2H242.1V1137.5H244.4V1035.1H245V1232H247V1131.3H249.3V1166.7H251.2V1232H253.8V1141.8H256.6V1035H257.4V1168.6H258.2V1232H260.4V1035H260.9V1158.9H262.8V1121.8H265.1V1232H267.3V1144.6H267.9V1109.5H269.8V1070.8H270.7V1105.2H273.4V1146.3H276.1V1178.6H278V1229.8H281V1188.2H282.7V1187.8H285.9V1050.6H286.5V1168.9H289.5V1133.2H292.2V1232H295.2V1232H297.4V1087.3H298V1131.8H299.8V1232H302V1199.3H304.1V1208.6H306.1V1232H308.2V1232H310.4V1120H311V1128.2H313.7V1152.2H316.7V1143.1H319.7V1232H322.1V1107.2H325.4V1144.5H328.6V1232H331.7V1232H334.3V1120H336.7V1232H339.8V1232H342.1V1232H344.1V1115H345V1133.4H347.5V1232H350.7V1089H351.5V1232H353.8V1232H356.3V1117.6H358.3V1148.9H360.4V1169.9H362.2V1232H364.6V1205.2H366.7V1232H369.5V1232H372V1140.3H373V1206H376.2V1069.2H377.9V1052.9H378.7V1142H381.8V1170.6H383.5V1182.2H385.9V1232H388.9V1125.3H390V1099.8H390.7V1173.2H392.5V1183.3H395.5V1195H398.4V1188.3H401.7V1155.6H404.3V1184.8H405.9V1232H408.3V1162.8H411V1232H414.1V1176H416.5V1189.2H418.6V1178.9H420.8V1202.2H423V1213.8H425.7V1035.5H426.3V1140.9H428V1159.6H429.1V1180.8H431.8V1202.5H434.3V1100.4H435.3V1232H436.9V1219H440.2V1153.2H442.9V1179.1H444.9V1116.9H448.2V1232H450.8V1232H453.5V1096.3H454.5V1155.6H457.6V1165.9H461.1V1173.8H464.5V1232H466.6V1209.8H469.1V1213.4H472.3V1228.8H475.3V1232H478.4V1160.7H481.7V1126.4H482.3V1107.8H482.8V1232H484.9V1212.1H485.8V1232H488.2V1111.7H490V1189.2H493.3V1232H495V1141.7H495.6V1085H496.7V1144.6H499.9V1148.7H501.8V1151.1H504.9V1132.8H505.6V1107.5H506.6V1169.5H509.7V1232H512V1213.1H514.5V1179.8H516.6V1232H519.4V1232H522.2V1137.5H523.9V1232H526.5V1094.6H528.6V1081.1H531.8V1141H534.6V1084.9H537.1V1232H539.5V1123.2H543V1110.2H545.3V1035H546.3V1044.4H547.2V1077.5H549.8V1060H553V1232H555.3V1062.4H555.9V1232H558.1V1232H560.2V1099.1H562.9V1159.1H566V1232H568.1V1109.1H568.9V1096.5H570.4V1232H573.4V1102.4H576V1059.8H576.6V1095.4H578.5V1063.4H581.9V1096.8H584.2V1213.5H586.9V1226.9H588.4V1232H591V1232H593.3V1035H594V1218.7H596.7V1157.8H599.5V1232H602.3V1099.6H604V1232H607.1V1059.8H610.3V1059.9H612.2V1232H615.4V1087.9H618.4V1062.5H621.1V1232H623.8V1132H627.3V1081.6H630V1232H633.1V1181.3H635.6V1117.4H638.3V1036.9H639.1V1094.9H641.9V1232H643.9V1112.3H645.8V1232H647.9V1232H650.6V1131.4H653.7V1096H654.5V1232H656.7V1232H658.8V1105.8H660.6V1139.4H663.3V1122.5H665.8V1195.7H668.9V1178.6H671.9V1131.5H674.4V1107.8H676.5V1232H678.8V1232H681.1V1082.4H683.7V1075H684.5V1232H687.7V1232H690.8V1137.9H692.3V1128H695.3V1130.3H698.4V1232H700.9V1061.5H701.6V1175.4H703.5V1157.1H706.3V1151.5H709.5V1162.8H712.9V1185.1H713.6V1177.1H715.2V1199H716.2V1186.7H717.7V1164.3H719.6V1035H720.6V1232H722.9V1232H724.9V1213.1H728.1V1232H730.2V1035H731.2V1156.7H734.6V1134.1H737.9V1232H740.3V1189.9H742.4V1107.1H743V1191.7H746.4V1227.5H749.1V1232H751.3V1154.6H752V1202.6H755.1V1167.9H756.8V1176.9H758.6V1123.3H761V1232H763.6V1100.4H766.2V1125.3H769V1073.8H772.2V1089.1H775.6V1232H778V1158.1H780.2V1126H783.1V1141.1H784.9V1166.1H786.5V1231.2H788.1V1232H790.5V1197.9H793.9V1228H797.2V1229.2H800.2V1232H803.3V1113.4H806.4V1154.4H809.5V1140.2H812.2V1113.3H812.8V1084.7H816.3V1106.4H818.9V1110.2H821.4V1110.8H824.3V1232H827V1173.1H827.8V1117.3H830.5V1232H832.8V1232H835.6V1115.7H837.3V1110.3H839.7V1142.5H840.5V1180.8H843.3V1204.9H845.7V1135H846.7V1232H849.4V1167.7H850.3V1199.2H851.8V1187.7H853.4V1143.3H855.2V1160.3H858.4V1114.8H861.8V1114.7H864.7V1232H867.3V1232H870.2V1139.8H873V1103.5H875.8V1172.1H876.5V1112.7H879.8V1159.2H882.5V1136.6H885.2V1232H888.1V1232H891.2V1169.9H893.3V1232H896V1114.1H898.5V1203.2H900.3V1127.5H902.2V1232H905.3V1035H906.2V1232H908.3V1160.4H908.8V1217.2H912.2V1163.4H914V1146.7H916.9V1035H917.4V1232H919.7V1232H922.8V1232H925.5V1232H928.4V1188.5H931.2V1146.7H931.9V1205.7H933.5V1232H936.5V1232H938.6V1232H940.8V1168.7H943.2V1155.6H944V1166.1H947.1V1188.9H947.9V1162.2H949.9V1232H953V1035H953.6V1102.8H955.5V1076.5H958.7V1035H959.5V1130H962.6V1035H963.5V1046.3H964V1232H966.2V1207.6H968.8V1232H971.2V1121.9H973.9V1114.8H977V1139.7H979V1174.3H979.6V1150.5H983.1V1150.3H985V1106.5H985.7V1160.1H988.7V1091.9H989.6V1134.7H992.6V1232H994.8V1232H996.9V1155.4H999.8V1232H1002.6V1148.8H1006V1101.7H1008.4V1232H1011.6V1118.8H1014.1V1155.9H1016.6V1135.7H1018.2V1232H1020.6V1101.7H1023.1V1162.6H1023.9V1232H1026.4V1106.7H1029V1232H1031.7V1232H1034.7V1232H1037.4V1086.9H1039.6V1072.2H1041.4V1070.4H1044.8V1094.1H1047.6V1170.6H1050.7V1120.7H1051.8V1158.9H1053.5V1120H1055.1V1146.6H1057.8V1140.3H1060.8V1177.6H1063.7V1232H1066.5V1162.6H1068.8V1087.6H1069.8V1153.3H1072.7V1147.1H1073.7V1153.5H1076.2V1213.4H1078.4V1227H1081.7V1232H1084.9V1210.2H1087.6V1159.3H1090.7V1035H1091.8V1232H1094.1V1173H1097V1232H1099.1V1166.3H1100.2V1232H1103.1V1111H1105.8V1184.7H1107.8V1149.5H1108.9V1215.8H1111.8V1189.1H1114.2V1114.9H1115.2V1216.4H1117.9V1168.4H1120.3V1156.4H1123.2V1232H1126V1208.2H1129.4V1220.1H1131.7V1189.8H1132.7V1106.3H1133.7V1210.5H1136.2V1167.3H1138.5V1232H1141.1V1142.4H1144.3V1095.7H1147.1V1119.9H1149.6V1232H1152.7V1170.6H1154.3V1128.1H1157.2V1148.2H1160.2V1182.6H1162.2V1145.9H1165.5V1150.4H1167.1V1232H1169.8V1232H1172.8V1216.6H1174.5V1232H1177.6V1196.9H1179.8V1144.5H1180.5V1179.6H1183.5V1210H1185.4V1170.9H1185.9V1126.4H1187.6V1232H1189.8V1232H1192.2V1140.4H1193.9V1036.8H1194.7V1095.8H1196.6V1035H1197.4V1091.8H1200.2V1132.4H1202.2V1119.3H1205.7V1128.3H1207.2V1232H1209.8V1166.5H1212.2V1187.5H1214.5V1075.7H1215.2V1128.8H1218.1V1097.9H1221.1V1035H1222V1162.8H1224V1175.8H1226.3V1232H1228.7V1121H1230.2V1232H1233.4V1223.8H1235.5V1152.9H1236.4V1127.8H1238.7V1232H1241.7V1232H1244.6V1202.7H1246.8V1124.4H1247.7V1232H1250.1V1116.5H1251V1215.1H1254.3V1215.9H1257.6V1232H1260V1179.6H1263.4V1151H1265.9V1054.7H1266.5V1232H1269V1232H1271.1V1192.1H1272.7V1164H1275.7V1137H1278.4V1232H1280.6V1145.6H1282.6V1232H1285.8V1148.2H1287.8V1121.7H1288.9V1138H1291.5V1232H1293.5V1174.5H1296V1035H1296.9V1093.4H1299.6V1183.8H1302.3V1185.6H1304V1090.5H1306.2V1081.5H1307.1V1232H1309.3V1111.3H1310.2V1170.4H1310.8V1114.8H1313.7V1064.3H1314.5V1232H1317.4V1075.7H1318.2V1194.6H1320.1V1150.4H1320.9V1232H1323.2V1103.7H1324.1V1126.3H1327.4V1108.1H1330.2V1232H1332.6V1131.5H1336V1121.3H1339.5V1232H1341.6V1134.6H1344.1V1232H1346.1V1133.2H1349.3V1196.5H1352.8V1202.6H1355.9V1232H1358.7V1155.7H1361V1191.3H1363.9V1201.6H1366.3V1232H1369.3V1175.1H1369.9V1146.7H1372.2V1113.2H1375.6V1232H1378V1181.1H1379.9V1162H1383.1V1207.3H1386.4V1232H1388.7V1232H1391.5V1182.1H1393.6V1094.7H1394.2V1155.5H1396V1139.4H1397.1V1139.6H1399.6V1232H1401.8V1142.4H1404.2V1232H1406.3V1231.8H1409V1215.8H1411.2V1232H1413.5V1117.5H1414V1150.6H1417V1232H1419.8V1164H1421.7V1232H1423.7V1161.7H1426.4V1232H1429.5V1232H1432.1V1150.9H1435V1095.7H1437.5V1232H1440.4V1172.6H1443.3V1130.4H1445.2V1121.6H1446.7V1070.3H1447.7V1164.4H1450.6V1188.3H1452.8V1201.8H1455.6V1144.1H1458.1V1198.6H1460.9V1149.9H1462.9V1174.1H1466.3V1035H1467.1V1166.3H1469.4V1124.8H1472.6V1232H1475.5V1113H1477.6V1232H1480.7V1099.2H1482.9V1232H1486.1V1185.7H1489V1137.7H1492.4V1232H1494.4V1181.4H1497.7V1076H1498.5V1167.9H1500.2V1104H1502.8V1091.6H1503.9V1070.7H1504.5V1150.8H1506.1V1129.5H1506.7V1232H1509.8V1089.7H1511.7V1109.3H1514.3V1165.7H1516.1V1063.8H1518.8V1167.8H1520.6V1169.1H1522.2V1232H1525.3V1232H1527.7V1232H1530V1058.5H1532V1035H1532.8V1114.3H1534.6V1082H1537.9V1142.5H1539.8V1232H1542.7V1172.6H1545.5V1145.5H1548.5V1132.3H1550.2V1232H1553.1V1220.3H1555.6V1035H1556.5V1065.5H1557.6V1232H1560.2V1232H1563V1134.3H1563.6V1126.6H1565.8V1165.9H1566.3V1222.1H1568.3V1232H1571.3V1094.3H1572.2V1120.1H1575.5V1177.7H1577.8V1187.6H1581.2V1207H1582.8V1119.2H1585.9V1103H1588.2V1122.1H1590.7V1154.5H1594.1V1147.4H1596.4V1196.6H1598.7V1109.5H1600.4V1232H1603.6V1151.6H1607.1V1145H1610.4V1166.3H1613.4V1162.2H1616.3V1232H1618.7V1140.1H1619.5V1154.2H1621.5V1189.8H1624.5V1133.2H1626.2V1190.9H1627.9V1207.9H1630.8V1072.2H1631.7V1194.2H1634.8V1151.7H1637.6V1232H1639.9V1166.1H1641.4V1180.4H1644.6V1232H1646.5V1000Z"/>
<path d="M1325.9 1110.0V1230.0" stroke="#D95319" stroke-width="2"/><path d="M1333.5 1056.5V1230.0" stroke="#D95319" stroke-width="2"/><path d="M1527.4 1034.0V1230.0" stroke="#D95319" stroke-width="2"/><path d="M1569.7 1085.7V1119.0" stroke="#D95319" stroke-width="2"/><path d="M1603.9 1113.6V1190.5" stroke="#D95319" stroke-width="2"/><path d="M548.3 1088.0V1182.0" stroke="#D95319" stroke-width="2"/><path d="M567.7 1099.0V1135.0" stroke="#D95319" stroke-width="2"/><path d="M697.2 1045.0V1128.0" stroke="#D95319" stroke-width="2"/><path d="M829.5 1085.7V1106.0" stroke="#D95319" stroke-width="2"/><path d="M1464.4 1101.0V1153.0" stroke="#D95319" stroke-width="2"/><path d="M1464.4 1135.0V1230.0" stroke="#0072BD" stroke-width="2"/><path d="M510.5 1126.0V1213.0" stroke="#0072BD" stroke-width="2"/>
<path d="M184.2 262.0V520.0" stroke="#EDB120" stroke-width="2"/><path d="M263.7 209.2V520.0" stroke="#EDB120" stroke-width="2"/><path d="M374.1 267.4V520.0" stroke="#EDB120" stroke-width="2"/><path d="M402.2 147.2V520.0" stroke="#EDB120" stroke-width="2"/><path d="M540.8 301.6V520.0" stroke="#EDB120" stroke-width="2"/><path d="M620.9 408.8V520.0" stroke="#EDB120" stroke-width="2"/><path d="M680.0 144.6V520.0" stroke="#EDB120" stroke-width="2"/><path d="M818.2 289.3V520.0" stroke="#EDB120" stroke-width="2"/><path d="M873.8 355.5V520.0" stroke="#EDB120" stroke-width="2"/><path d="M1125.1 249.0V520.0" stroke="#EDB120" stroke-width="2"/><path d="M1234.6 76.0V520.0" stroke="#EDB120" stroke-width="2"/><path d="M1371.6 200.0V520.0" stroke="#EDB120" stroke-width="2"/><path d="M1511.0 125.0V520.0" stroke="#EDB120" stroke-width="2"/><path d="M1612.5 342.6V520.0" stroke="#EDB120" stroke-width="2"/><path d="M1645.3 387.8V520.0" stroke="#EDB120" stroke-width="2"/>
</g>
<g font-size="50">
<text x="182.50" y="1291.3" text-anchor="middle">0</text>
<text x="365.25" y="1291.3" text-anchor="middle">2</text>
<text x="548.00" y="1291.3" text-anchor="middle">4</text>
<text x="730.75" y="1291.3" text-anchor="middle">6</text>
<text x="913.50" y="1291.3" text-anchor="middle">8</text>
<text x="1096.25" y="1291.3" text-anchor="middle">10</text>
<text x="1279.00" y="1291.3" text-anchor="middle">12</text>
<text x="1461.75" y="1291.3" text-anchor="middle">14</text>
<text x="1644.50" y="1291.3" text-anchor="middle">16</text>
<text x="163.2" y="91.00" text-anchor="end">0</text>
<text x="163.2" y="244.79" text-anchor="end">-10</text>
<text x="163.2" y="398.57" text-anchor="end">-20</text>
<text x="163.2" y="552.36" text-anchor="end">-30</text>
<text x="163.2" y="706.15" text-anchor="end">-40</text>
<text x="163.2" y="859.93" text-anchor="end">-50</text>
<text x="163.2" y="1013.72" text-anchor="end">-60</text>
<text x="163.2" y="1167.51" text-anchor="end">-70</text>
</g>
<text x="913" y="1357.5" font-size="55" text-anchor="middle">Samples</text>
<text transform="translate(72.5 653.2) rotate(-90)" font-size="54.2" text-anchor="middle">CA/dB</text>
<text x="1535" y="1378" font-size="60">×</text><text x="1573" y="1370" font-size="50">10</text><text x="1624" y="1346" font-size="39">5</text>
<g>
<rect x="1150.1" y="120.05" width="449.6" height="177.95" fill="#fff" stroke="#202020" stroke-width="2"/>
<path d="M1163.5 153.6H1297.5" stroke="#0072BD" stroke-width="2"/>
<path d="M1163.5 208.8H1297.5" stroke="#D95319" stroke-width="2"/>
<path d="M1163.5 264.3H1297.5" stroke="#EDB120" stroke-width="2"/>
<g font-size="44.5">
<text x="1307" y="169" style="fill:#000">No cancellation</text>
<text x="1307" y="224.4" style="fill:#000">ECA</text>
<text x="1307" y="279.9" style="fill:#000">ECA-FB</text>
</g>
</g>
</svg>
</body></html>
